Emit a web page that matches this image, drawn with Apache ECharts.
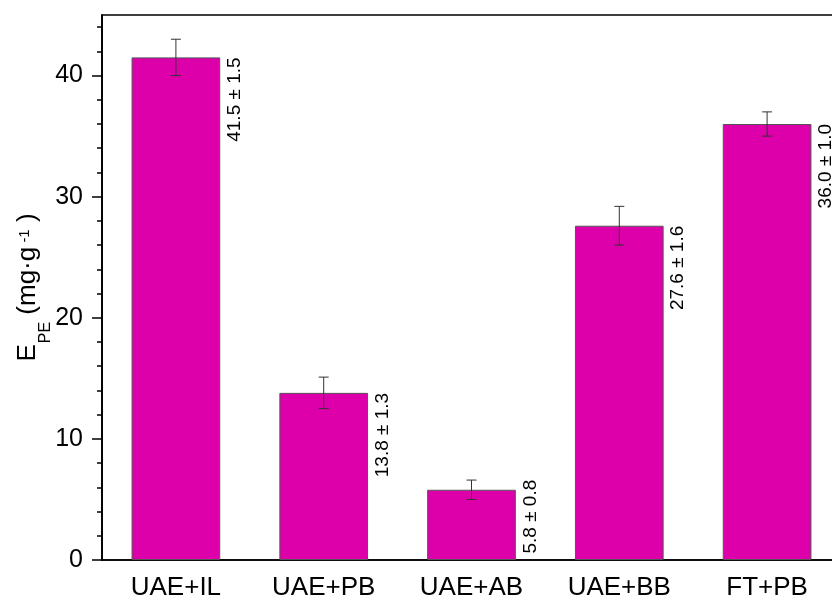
<!DOCTYPE html>
<html>
<head>
<meta charset="utf-8">
<script src="https://cdn.jsdelivr.net/npm/echarts@6/dist/echarts.min.js"></script>
<style>
  html, body { margin: 0; padding: 0; background: #fff; }
  #chart { width: 832px; height: 603px; }
</style>
</head>
<body>
<div id="chart"></div>
<script>
var categories = ["UAE+IL", "UAE+PB", "UAE+AB", "UAE+BB", "FT+PB"];
var means = [41.5, 13.8, 5.8, 27.6, 36.0];
var errs = [1.5, 1.3, 0.8, 1.6, 1.0];
var majorTicks = [0, 10, 20, 30, 40];
var minorTicks = [2, 4, 6, 8, 12, 14, 16, 18, 22, 24, 26, 28, 32, 34, 36, 38, 42, 44];

var font = "'Liberation Sans', Arial, sans-serif";

// error bar range from value +- error
var errData = [];
for (var i = 0; i < means.length; i++) {
    errData.push([i, means[i] - errs[i], means[i] + errs[i]]);
}

// bar data; the short bar's label is lifted so it stays above the axis
var barData = [];
for (var i = 0; i < means.length; i++) {
    if (means[i] < 8) {
        barData.push({ value: means[i], label: { position: ['100%', -10] } });
    } else {
        barData.push(means[i]);
    }
}

function renderErr(params, api) {
    var lo = api.coord([api.value(0), api.value(1)]);
    var hi = api.coord([api.value(0), api.value(2)]);
    var cap = 5;
    var st = { stroke: '#333', lineWidth: 1 };
    return {
        type: 'group',
        children: [
            { type: 'line', shape: { x1: hi[0], y1: hi[1], x2: lo[0], y2: lo[1] }, style: st },
            { type: 'line', shape: { x1: hi[0] - cap, y1: hi[1], x2: hi[0] + cap, y2: hi[1] }, style: st },
            { type: 'line', shape: { x1: lo[0] - cap, y1: lo[1], x2: lo[0] + cap, y2: lo[1] }, style: st }
        ]
    };
}

var chart = echarts.init(document.getElementById('chart'));
var option = {
    animation: false,
    backgroundColor: '#fff',
    grid: {
        left: 102, width: 739, top: 15, bottom: 43,
        outerBoundsMode: 'none',
        show: true, borderColor: '#000', borderWidth: 1.7
    },
    xAxis: {
        type: 'category',
        data: categories,
        axisLine: { lineStyle: { color: '#000', width: 1.7 } },
        axisTick: { alignWithLabel: true, length: 10, lineStyle: { color: '#000', width: 1.5 } },
        axisLabel: { color: '#000', fontSize: 26, fontFamily: font, margin: 15 },
        splitLine: { show: false }
    },
    yAxis: [{
        type: 'value',
        min: 0, max: 45, interval: 10,
        position: 'left',
        name: '{e|E}{sub|PE}{t| (mg·g}{sup| -1}{t| )}',
        nameLocation: 'middle',
        nameGap: 48,
        nameMoveOverlap: false,
        nameTextStyle: {
            color: '#000', fontFamily: font, fontSize: 26,
            rich: {
                e: { fontSize: 26, fontFamily: font, color: '#000' },
                t: { fontSize: 26, fontFamily: font, color: '#000' },
                sub: { fontSize: 16, fontFamily: font, color: '#000', padding: [37, 0, 0, 1] },
                sup: { fontSize: 15, fontFamily: font, color: '#000', padding: [0, 0, 5, 0] }
            }
        },
        axisLine: { show: true, lineStyle: { color: '#000', width: 1.7 } },
        axisTick: { show: true, length: 10, customValues: majorTicks, lineStyle: { color: '#000', width: 1.5 } },
        axisLabel: { color: '#000', fontSize: 25, fontFamily: font, margin: 19, customValues: majorTicks },
        splitLine: { show: false }
    }, {
        type: 'value',
        min: 0, max: 45, interval: 2,
        position: 'left',
        axisLine: { show: false },
        axisTick: { show: true, length: 5, customValues: minorTicks, lineStyle: { color: '#000', width: 1.5 } },
        axisLabel: { show: false },
        splitLine: { show: false }
    }],
    series: [{
        type: 'bar',
        data: barData,
        barWidth: '60%',
        itemStyle: { color: '#dd00aa', borderColor: '#555', borderWidth: 1 },
        label: {
            show: true,
            position: ['100%', 0],
            rotate: 90,
            align: 'right',
            verticalAlign: 'top',
            padding: [5, 0, 0, 0],
            color: '#000',
            fontSize: 19,
            fontFamily: font,
            formatter: function (p) {
                return means[p.dataIndex].toFixed(1) + ' ± ' + errs[p.dataIndex].toFixed(1);
            }
        }
    }, {
        type: 'custom',
        renderItem: renderErr,
        data: errData,
        encode: { x: 0, y: [1, 2] },
        z: 10
    }]
};
chart.setOption(option);
</script>
</body>
</html>
